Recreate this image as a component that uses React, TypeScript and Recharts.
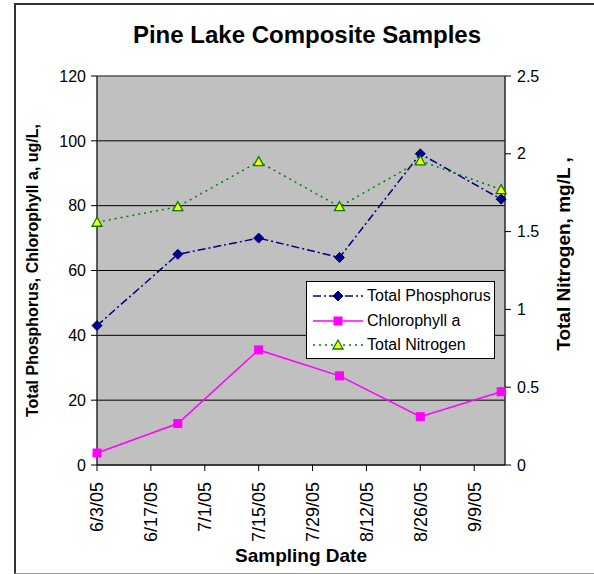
import React from "react";
import {
  LineChart,
  Line,
  XAxis,
  YAxis,
  CartesianGrid,
  ReferenceArea,
} from "recharts";

// days since 6/3/05
const sampleDays = [0, 21, 42, 63, 84, 105];
const sampleDates = ["6/3/05", "6/24/05", "7/15/05", "8/5/05", "8/26/05", "9/16/05"];
const totalPhosphorus = [43, 65, 70, 64, 96, 82];
const chlorophyllA = [3.7, 12.8, 35.5, 27.5, 14.9, 22.6];
const totalNitrogen = [1.56, 1.66, 1.95, 1.66, 1.955, 1.77];

const xTickDays = [0, 14, 28, 42, 56, 70, 84, 98];
const xTickLabels = ["6/3/05", "6/17/05", "7/1/05", "7/15/05", "7/29/05", "8/12/05", "8/26/05", "9/9/05"];
const leftTicks = [0, 20, 40, 60, 80, 100, 120];
const rightTicks = [0, 0.5, 1, 1.5, 2, 2.5];

const data = sampleDays.map((d, i) => ({
  day: d,
  date: sampleDates[i],
  tp: totalPhosphorus[i],
  chl: chlorophyllA[i],
  tn: totalNitrogen[i],
}));

const FONT = "'Liberation Sans', Arial, sans-serif";

const series = [
  { key: "tp", name: "Total Phosphorus", color: "#000080", dash: "8 3 2 3", marker: "diamond" },
  { key: "chl", name: "Chlorophyll a", color: "#ff00ff", dash: undefined, marker: "square" },
  { key: "tn", name: "Total Nitrogen", color: "#008000", dash: "2 4", marker: "triangle" },
];

function Marker({ type, cx, cy }: { type: string; cx: number; cy: number }) {
  if (cx == null || cy == null) return null;
  if (type === "diamond")
    return (
      <path
        d={`M${cx},${cy - 5} L${cx + 5},${cy} L${cx},${cy + 5} L${cx - 5},${cy} Z`}
        fill="#000080"
        stroke="#000080"
      />
    );
  if (type === "square")
    return <rect x={cx - 4} y={cy - 4} width={8} height={8} fill="#ff00ff" stroke="#ff00ff" />;
  return (
    <path
      d={`M${cx},${cy - 5} L${cx + 5},${cy + 4} L${cx - 5},${cy + 4} Z`}
      fill="#ffff00"
      stroke="#008000"
      strokeWidth={1.3}
    />
  );
}

function DateTick({ x, y, index }: any) {
  return (
    <text
      transform={`translate(${x},${y + 9}) rotate(-90)`}
      textAnchor="end"
      dy="0.35em"
      fontSize={18}
      fontFamily={FONT}
      fill="#000"
    >
      {xTickLabels[index]}
    </text>
  );
}

function RightTitle({ viewBox }: any) {
  const x = viewBox.x + viewBox.width - 31;
  const y = 254;
  return (
    <text
      x={x}
      y={y}
      transform={`rotate(-90, ${x}, ${y})`}
      textAnchor="middle"
      dominantBaseline="central"
      fontFamily={FONT}
      fontWeight="bold"
      fontSize={19}
      fill="#000"
    >
      Total Nitrogen, mg/L ,
    </text>
  );
}

function LegendBox() {
  return (
    <div
      style={{
        position: "absolute",
        left: 306,
        top: 281,
        width: 189,
        height: 78,
        background: "#fff",
        border: "1px solid #000",
        fontFamily: FONT,
        fontSize: 16,
        padding: "2px 0 0 0",
        boxSizing: "border-box",
        whiteSpace: "nowrap",
      }}
    >
      {series.map((s) => (
        <div key={s.key} style={{ display: "flex", alignItems: "center", height: 24.5 }}>
          <svg width={56} height={14} style={{ marginLeft: 4 }}>
            <line
              x1={2}
              y1={7}
              x2={52}
              y2={7}
              stroke={s.color}
              strokeWidth={1.5}
              strokeDasharray={s.dash}
            />
            <Marker type={s.marker} cx={27} cy={7} />
          </svg>
          <span>{s.name}</span>
        </div>
      ))}
    </div>
  );
}

export default function App() {
  return (
    <div style={{ position: "absolute", left: 0, top: 0, width: 594, height: 574, background: "#fff" }}>
      <div
        style={{
          position: "absolute",
          left: 14,
          top: 3,
          width: 600,
          height: 568,
          borderLeft: "2px solid #333",
          borderTop: "2px solid #333",
          borderBottom: "1px solid #999",
        }}
      />
      <div
        style={{
          position: "absolute",
          left: 0,
          top: 21,
          width: 614,
          textAlign: "center",
          fontFamily: FONT,
          fontWeight: "bold",
          fontSize: 24,
          lineHeight: "27px",
        }}
      >
        Pine Lake Composite Samples
      </div>
      <div style={{ position: "absolute", left: 0, top: 0 }}>
        <LineChart width={594} height={574} data={data} margin={{ top: 76, right: 0, bottom: 0, left: 0 }}>
          <CartesianGrid vertical={false} stroke="#000" fill="#c0c0c0" yAxisId="left" />
          <XAxis
            type="number"
            dataKey="day"
            domain={[0, 106]}
            ticks={xTickDays}
            interval={0}
            height={109}
            stroke="#000"
            tickSize={6}
            tick={<DateTick />}
            label={{
              value: "Sampling Date",
              position: "insideBottom",
              offset: 12,
              style: { fontFamily: FONT, fontWeight: "bold", fontSize: 19, fill: "#000" },
            }}
          />
          <YAxis
            yAxisId="left"
            domain={[0, 120]}
            ticks={leftTicks}
            width={97}
            stroke="#000"
            tickSize={6}
            tickMargin={5}
            tick={{ fill: "#000", fontSize: 16, fontFamily: FONT }}
            label={{
              value: "Total Phosphorus, Chlorophyll a, ug/L,",
              angle: -90,
              position: "insideLeft",
              offset: 32,
              style: { textAnchor: "middle", fontFamily: FONT, fontWeight: "bold", fontSize: 16, fill: "#000" },
            }}
          />
          <YAxis
            yAxisId="right"
            orientation="right"
            domain={[0, 2.5]}
            ticks={rightTicks}
            width={89}
            stroke="#000"
            tickSize={6}
            tickMargin={6}
            tick={{ fill: "#000", fontSize: 16, fontFamily: FONT }}
            label={<RightTitle />}
          />
          <ReferenceArea
            yAxisId="left"
            x1={0}
            x2={106}
            y1={0}
            y2={120}
            fill="none"
            stroke="#808080"
            strokeWidth={1}
          />
          {series.map((s) => (
            <Line
              key={s.key}
              yAxisId={s.key === "tn" ? "right" : "left"}
              type="linear"
              dataKey={s.key}
              name={s.name}
              stroke={s.color}
              strokeWidth={1.5}
              strokeDasharray={s.dash}
              isAnimationActive={false}
              dot={(p: any) => <Marker key={`${s.key}-${p.index}`} type={s.marker} cx={p.cx} cy={p.cy} />}
              activeDot={false}
            />
          ))}
        </LineChart>
      </div>
      <LegendBox />
    </div>
  );
}
